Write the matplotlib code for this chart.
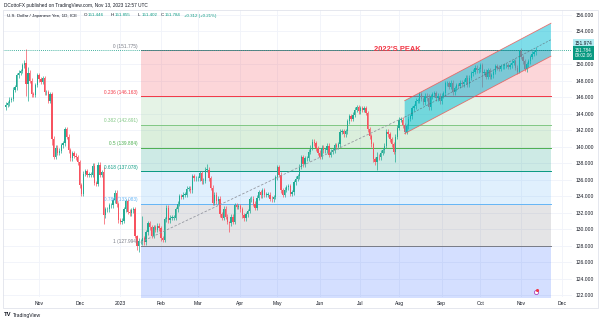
import numpy as np
import pandas as pd
import matplotlib
matplotlib.use("Agg")
import matplotlib.pyplot as plt
from matplotlib.patches import Rectangle, Polygon

# daily closes USD/JPY, 6 Oct 2022 -> 13 Nov 2023 (one row per week)
closes = [
    145.1, 145.3,
    145.7, 145.8, 146.9, 147.2, 148.7,
    149.0, 149.2, 149.9, 150.2, 147.6,
    149.0, 148.0, 146.4, 146.3, 147.5,
    148.7, 148.2, 147.9, 148.3, 146.6,
    146.6, 145.6, 146.4, 141.0, 138.8,
    139.9, 139.3, 139.5, 140.2, 140.4,
    142.1, 141.2, 139.6, 138.6, 139.2,
    138.9, 138.7, 138.1, 135.3, 134.3,
    136.7, 137.0, 136.6, 136.6, 136.6,
    137.7, 135.6, 135.5, 137.8, 136.6,
    136.9, 131.7, 132.4, 132.4, 132.9,
    132.9, 133.5, 134.4, 133.0, 131.1,
    130.9, 131.0, 132.4, 133.4, 132.1,
    131.9, 132.3, 132.4, 129.2, 127.9,
    128.5, 128.5, 128.9, 128.4, 129.6,
    130.7, 130.2, 129.2, 130.2, 129.9,
    130.4, 130.1, 128.9, 128.7, 131.2,
    132.6, 131.1, 131.4, 131.4, 131.4,
    132.4, 133.1, 134.0, 133.9, 134.2,
    134.2, 134.9, 134.9, 134.7, 136.4,
    136.2, 136.2, 136.2, 136.8, 135.8,
    135.9, 137.2, 137.2, 136.2, 135.0,
    133.2, 134.2, 133.4, 133.7, 131.8,
    131.4, 132.5, 131.5, 130.9, 130.7,
    131.5, 130.9, 132.9, 132.7, 132.8,
    132.4, 131.7, 131.3, 131.8, 132.2,
    133.6, 133.7, 133.1, 132.6, 133.8,
    134.5, 134.1, 134.7, 134.2, 134.2,
    134.2, 133.7, 133.6, 133.9, 136.3,
    137.5, 136.6, 134.7, 134.2, 134.8,
    135.1, 135.2, 134.3, 134.5, 135.7,
    136.1, 136.4, 137.6, 138.7, 137.9,
    138.6, 138.6, 139.4, 139.9, 140.6,
    140.4, 139.8, 139.3, 138.8, 139.9,
    139.6, 139.6, 140.1, 139.0, 139.4,
    139.6, 140.2, 140.0, 140.3, 141.8,
    141.9, 141.5, 141.9, 143.1, 143.7,
    143.4, 143.9, 144.5, 144.8, 144.3,
    144.7, 144.5, 144.7, 144.1, 142.1,
    141.3, 140.3, 138.5, 138.1, 138.8,
    138.7, 139.3, 139.6, 140.1, 141.8,
    141.5, 140.9, 140.3, 139.4, 141.2,
    142.3, 143.3, 143.3, 142.6, 141.8,
    142.5, 143.4, 143.7, 144.7, 144.9,
    145.6, 145.6, 146.4, 145.8, 145.4,
    146.2, 145.9, 144.8, 146.1, 146.4,
    146.5, 145.9, 146.2, 145.5, 146.2,
    146.5, 147.7, 147.7, 147.3, 147.8,
    146.6, 147.1, 147.5, 147.4, 147.8,
    147.6, 147.9, 148.4, 147.6, 148.4,
    148.9, 149.1, 149.6, 149.3, 149.4,
    149.9, 149.0, 149.1, 148.5, 149.3,
    148.5, 148.7, 149.1, 149.8, 149.6,
    149.5, 149.8, 149.8, 149.9, 149.9,
    149.7, 149.9, 150.2, 150.4, 149.6,
    149.1, 151.7, 150.9, 150.4, 149.4,
    150.0, 150.4, 150.9, 151.3, 151.5,
    151.8,
]
first_open = 144.8

# days with long wicks: (high, low)
spikes = {
    "2022-10-21": (151.9, 146.2),
    "2022-10-24": (149.7, 145.5),
    "2022-11-10": (146.6, 140.2),
    "2022-12-20": (137.5, 130.6),
    "2023-01-13": (129.3, 127.5),
    "2023-01-16": (128.9, 127.2),
    "2023-01-18": (131.6, 128.1),
    "2023-03-08": (137.9, 136.9),
    "2023-03-24": (131.0, 129.6),
    "2023-07-14": (139.4, 137.2),
    "2023-07-28": (141.6, 138.1),
    "2023-08-23": (146.4, 144.5),
    "2023-10-03": (150.2, 147.3),
    "2023-10-31": (151.7, 149.0),
    "2023-11-03": (150.6, 149.2),
}

fib_ratios = [0, 0.236, 0.382, 0.5, 0.618, 0.786, 1, 1.618]
fib_prices = [151.775, 146.163, 142.691, 139.884, 137.078, 133.083, 127.994, 113.297]
fib_line_colors = ["#787b86", "#f23645", "#81c784", "#4caf50", "#089981", "#64b5f6", "#787b86"]
fib_fill_colors = ["#f23645", "#81c784", "#4caf50", "#089981", "#64b5f6", "#787b86", "#2962ff"]

price_ticks = [122, 124, 126, 128, 130, 132, 134, 136, 138, 140, 142, 144,
               146, 148, 150, 154, 156]
month_labels = ["Nov", "Dec", "2023", "Feb", "Mar", "Apr", "May", "Jun", "Jul",
                "Aug", "Sep", "Oct", "Nov", "Dec"]

last_price = 151.784
marked_price = 151.974

W, H = 602, 322
UP, DOWN = "#22ab94", "#f7525f"
TXT = "#131722"
plt.rcParams["font.family"] = ["Liberation Sans", "DejaVu Sans"]


def fx(x):
    return x / W


def fy(y):
    return 1 - y / H


dates = pd.bdate_range("2022-10-06", periods=len(closes))
all_dates = pd.bdate_range("2022-10-06", "2023-12-29")
closes = np.array(closes)
opens = np.r_[first_open, closes[:-1]]
wick = 0.3
highs = np.maximum(opens, closes) + wick
lows = np.minimum(opens, closes) - wick
for d, (h, l) in spikes.items():
    k = dates.get_loc(pd.Timestamp(d))
    highs[k], lows[k] = h, l
idx = np.arange(len(closes))

fig = plt.figure(figsize=(W / 100, H / 100), dpi=100)
ax = fig.add_axes([fx(3), fy(297), fx(569), 287 / H])
ax.set_xlim(-1.5, 306.6)
ax.set_ylim(121.757, 156.607)
for s in ax.spines.values():
    s.set_visible(False)

# month ticks
starts = [i for i in range(1, len(all_dates)) if all_dates[i].month != all_dates[i - 1].month]
ax.set_xticks(starts[:len(month_labels)])
ax.set_xticklabels(month_labels, fontsize=3.6, color=TXT)
ax.yaxis.tick_right()
ax.set_yticks(price_ticks)
ax.set_yticklabels([f"{p:.3f}" for p in price_ticks], fontsize=3.6, color=TXT)
ax.tick_params(length=0, pad=2.4)
ax.tick_params(axis="x", pad=3.2)
ax.grid(color="#f0f3fa", lw=0.6, zorder=0)
ax.set_axisbelow(True)

# fibonacci retracement
fib_x0, fib_x1 = 73.2, 295.2
for k in range(len(fib_fill_colors)):
    ax.fill_between([fib_x0, fib_x1], fib_prices[k + 1], fib_prices[k],
                    color=fib_fill_colors[k], alpha=0.2, lw=0, zorder=1)
for k, c in enumerate(fib_line_colors):
    ax.plot([fib_x0, fib_x1], [fib_prices[k]] * 2, color=c, lw=0.7, zorder=1.5)
    ax.text(71.5, fib_prices[k] + 0.15, f"{fib_ratios[k]:g} ({fib_prices[k]:.3f})",
            color=c, fontsize=3.4, ha="right", va="bottom", zorder=5)

# candles
col = np.where(closes >= opens, UP, DOWN)
ax.vlines(idx, lows, highs, colors=col, lw=0.5, zorder=2)
ax.bar(idx, np.maximum(np.abs(closes - opens), 0.06), bottom=np.minimum(opens, closes),
       width=0.7, color=col, lw=0, zorder=2.1)

# current price line
ax.axhline(last_price, color="#089981", lw=0.6, ls=(0, (1, 1.5)), zorder=4)

# dashed trend line
ax.plot([73, 216], [128.4, 143.6], color="#9598a1", lw=0.6, ls=(0, (3, 2)), zorder=4)

# parallel channel
ch_x0, ch_x1 = 216, 295.2
ch_lo0, ch_lo1, ch_w = 141.6, 151.0, 4.0
ax.add_patch(Polygon([(ch_x0, ch_lo0), (ch_x1, ch_lo1), (ch_x1, ch_lo1 + ch_w), (ch_x0, ch_lo0 + ch_w)],
                     closed=True, facecolor="#00bcd4", alpha=0.5, lw=0, zorder=3))
ax.plot([ch_x0, ch_x1], [ch_lo0, ch_lo1], color="#ef5350", lw=0.6, alpha=0.8, zorder=4)
ax.plot([ch_x0, ch_x1], [ch_lo0 + ch_w, ch_lo1 + ch_w], color="#ef5350", lw=0.6, alpha=0.8, zorder=4)
ax.plot([ch_x0, ch_x1], [ch_lo0 + ch_w / 2, ch_lo1 + ch_w / 2], color="#5d606b",
        lw=0.5, ls=(0, (3, 2)), alpha=0.7, zorder=4)

ax.text(211.8, 151.75, "2022'S PEAK", color="#f23645", fontsize=5.4, fontweight="bold",
        ha="center", va="center", zorder=5)

# event marker
ax.scatter([287], [122.36], s=9, facecolor="white", edgecolor="#ab47bc", lw=0.6, zorder=5)
ax.scatter([287.9], [122.6], s=1.5, color="#f23645", zorder=6)

# frame
fig.add_artist(Rectangle((fx(3), fy(308)), fx(595), 298 / H, transform=fig.transFigure,
                         fill=False, edgecolor="#e0e3eb", lw=0.6))

# price labels on the axis
fig.text(fx(583.5), fy(43.2), f"{marked_price:.3f}", fontsize=3.5, color=TXT, ha="center", va="center",
         bbox=dict(boxstyle="square,pad=0.25", fc="#b2ebf2", ec="none"))
fig.text(fx(583.5), fy(53), f"{last_price:.3f}\n09:02:06", fontsize=3.3, color="white", ha="center",
         va="center", linespacing=1.1, bbox=dict(boxstyle="square,pad=0.3", fc="#089981", ec="none"))

# header texts
fig.text(fx(4), fy(5), "DCottoFX published on TradingView.com, Nov 13, 2023 12:57 UTC",
         fontsize=3.4, color=TXT, va="center")
fig.text(fx(7), fy(15.5), "U.S. Dollar / Japanese Yen, 1D, ICE", fontsize=3.2, color=TXT, va="center")
ohlc = [("O", "151.446", 84), ("H", "151.855", 111), ("L", "151.402", 138), ("C", "151.784", 161)]
for lab, val, x in ohlc:
    fig.text(fx(x), fy(15.5), lab, fontsize=3.2, color=TXT, va="center")
    fig.text(fx(x + 3.2), fy(15.5), val, fontsize=3.2, color="#089981", va="center")
fig.text(fx(184), fy(15.5), "+0.312 (+0.21%)", fontsize=3.2, color="#089981", va="center")

fig.text(fx(4), fy(315), "TV", fontsize=4.2, fontweight="bold", color=TXT, va="center")
fig.text(fx(13), fy(315), "TradingView", fontsize=3.6, color=TXT, va="center")

fig.savefig("out.png", dpi=100)
